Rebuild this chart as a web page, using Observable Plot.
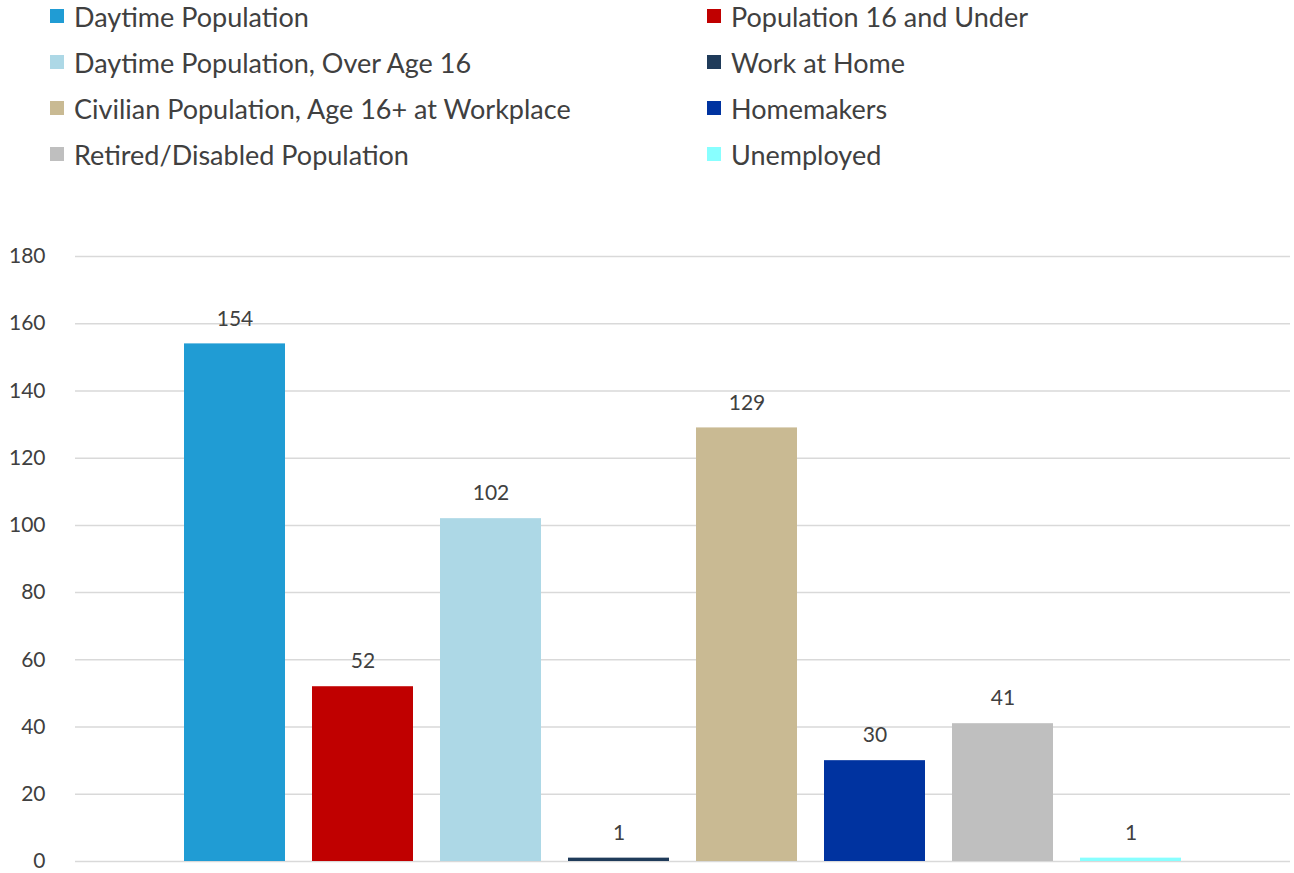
<!DOCTYPE html>
<html>
<head>
<meta charset="utf-8">
<script src="https://cdn.jsdelivr.net/npm/d3@7"></script>
<script src="https://cdn.jsdelivr.net/npm/@observablehq/plot@0.6"></script>
<style>
  body { margin: 0; background: #fff; font-family: Lato, "Open Sans", sans-serif; }
  #legend { position: relative; height: 200px; width: 1294px; }
  .item { position: absolute; display: flex; align-items: center; font-size: 27px; color: #404040; white-space: nowrap; height: 30px; }
  .sw { width: 14px; height: 14px; margin-right: 10px; flex: none; }
  #chart svg { display: block; }
</style>
</head>
<body>
<div id="legend"></div>
<div id="chart"></div>
<script>
const categories = [
  "Daytime Population",
  "Population 16 and Under",
  "Daytime Population, Over Age 16",
  "Work at Home",
  "Civilian Population, Age 16+ at Workplace",
  "Homemakers",
  "Retired/Disabled Population",
  "Unemployed"
];
const values = [154, 52, 102, 1, 129, 30, 41, 1];
const colors = ["#209cd4", "#c00000", "#add8e6", "#1f3b5a", "#c9ba93", "#0033a0", "#bfbfbf", "#88ffff"];
const yTicks = [0, 20, 40, 60, 80, 100, 120, 140, 160, 180];
// legend order: left column then right column
const legendLeft = [0, 2, 4, 6];
const legendRight = [1, 3, 5, 7];

const data = categories.map((c, i) => ({category: c, value: values[i]}));

const legend = document.getElementById("legend");
function addItem(idx, x, y) {
  const d = document.createElement("div");
  d.className = "item";
  d.style.left = x + "px";
  d.style.top = (y - 15) + "px";
  d.innerHTML = `<span class="sw" style="background:${colors[idx]}"></span><span>${categories[idx]}</span>`;
  legend.appendChild(d);
}
legendLeft.forEach((idx, r) => addItem(idx, 50, 16 + r * 46));
legendRight.forEach((idx, r) => addItem(idx, 707, 16 + r * 46));

const chart = Plot.plot({
  width: 1294,
  height: 673,
  marginLeft: 75,
  marginRight: 4,
  marginTop: 56,
  marginBottom: 12,
  style: {fontFamily: "Lato, 'Open Sans', sans-serif", fontSize: "21px", color: "#404040", background: "#fff"},
  x: {domain: categories, range: [170.5, 1194.5], paddingInner: 0.211, paddingOuter: 0.1055, axis: null},
  y: {domain: [0, 180], ticks: yTicks, grid: false, label: null, tickSize: 0, tickPadding: 30},
  color: {domain: categories, range: colors},
  marks: [
    Plot.ruleY(yTicks, {stroke: "#d9d9d9", strokeWidth: 1.5}),
    Plot.barY(data, {x: "category", y: "value", fill: "category"}),
    Plot.text(data, {x: "category", y: "value", text: d => String(d.value), dy: -25, fill: "#404040", fontSize: 21}),
    Plot.axisY({ticks: yTicks, tickSize: 0, tickPadding: 30, label: null, fontSize: 21, fill: "#404040"})
  ]
});
document.getElementById("chart").appendChild(chart);
</script>
</body>
</html>
